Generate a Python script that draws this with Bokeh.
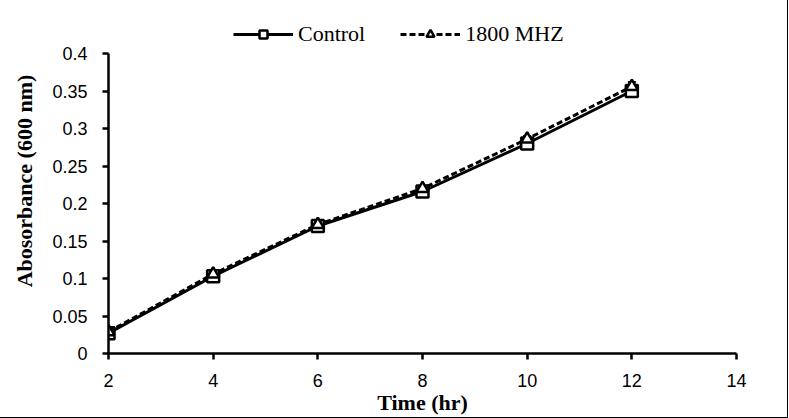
from bokeh.plotting import figure
from bokeh.models import FixedTicker, Legend, LegendItem, Whisker, ColumnDataSource, Range1d
from bokeh.embed import file_html
from bokeh.resources import INLINE

time_hr = [2, 4, 6, 8, 10, 12]
control = [0.027, 0.103, 0.170, 0.216, 0.280, 0.350]
control_err = [0.003, 0.003, 0.003, 0.003, 0.003, 0.004]
mhz1800 = [0.029, 0.106, 0.172, 0.220, 0.286, 0.356]
mhz1800_err = [0.003, 0.003, 0.003, 0.003, 0.004, 0.006]
x_ticks = [2, 4, 6, 8, 10, 12, 14]
y_ticks = [0, 0.05, 0.1, 0.15, 0.2, 0.25, 0.3, 0.35, 0.4]
y_labels = ["0", "0.05", "0.1", "0.15", "0.2", "0.25", "0.3", "0.35", "0.4"]

p = figure(frame_width=628, frame_height=345, output_backend="svg", toolbar_location=None,
           x_range=Range1d(2, 14), y_range=Range1d(0, 0.46),
           min_border_left=108, min_border_right=51, min_border_top=8, min_border_bottom=63)
p.styles = {"outline": "1px solid black"}
p.outline_line_color = None
p.grid.visible = False

src_c = ColumnDataSource(dict(x=time_hr, y=control,
                              lo=[v - e for v, e in zip(control, control_err)],
                              hi=[v + e for v, e in zip(control, control_err)]))
src_m = ColumnDataSource(dict(x=time_hr, y=mhz1800,
                              lo=[v - e for v, e in zip(mhz1800, mhz1800_err)],
                              hi=[v + e for v, e in zip(mhz1800, mhz1800_err)]))

for src in (src_c, src_m):
    w = Whisker(source=src, base="x", lower="lo", upper="hi", line_color="black", line_width=2)
    w.upper_head.size = 8
    w.lower_head.size = 8
    w.upper_head.line_color = "black"
    w.lower_head.line_color = "black"
    w.upper_head.line_width = 2
    w.lower_head.line_width = 2
    p.add_layout(w)

l1 = p.line("x", "y", source=src_c, line_color="black", line_width=3)
m1 = p.scatter("x", "y", source=src_c, marker="square", size=12, fill_color="white",
               line_color="black", line_width=2.5)
l2 = p.line("x", "y", source=src_m, line_color="black", line_width=3, line_dash="6 3")
m2 = p.scatter("x", "y", source=src_m, marker="triangle", size=12, fill_color="white",
               line_color="black", line_width=2.5)

for ax in (p.xaxis[0], p.yaxis[0]):
    ax.axis_line_color = "black"
    ax.axis_line_width = 2.5
    ax.major_tick_line_color = "black"
    ax.major_tick_line_width = 2.5
    ax.major_tick_out = 6
    ax.major_tick_in = 0
    ax.minor_tick_line_color = None
    ax.major_label_text_font = "Liberation Sans"
    ax.major_label_text_font_size = "18px"
    ax.major_label_text_color = "black"
    ax.axis_label_text_font = "Liberation Serif"
    ax.axis_label_text_font_style = "bold"
    ax.axis_label_text_font_size = "22px"
    ax.axis_label_text_color = "black"

p.xaxis.ticker = FixedTicker(ticks=x_ticks)
p.yaxis.ticker = FixedTicker(ticks=y_ticks)
p.yaxis.bounds = (0, 0.4)
p.yaxis.major_label_overrides = {t: s for t, s in zip(y_ticks, y_labels)}
p.xaxis.axis_label = "Time (hr)"
p.yaxis.axis_label = "Abosorbance (600 nm)"
p.xaxis.major_label_standoff = 14
p.xaxis.axis_label_standoff = 0
p.yaxis.major_label_standoff = 15
p.yaxis.axis_label_standoff = 12

legend = Legend(items=[LegendItem(label="Control", renderers=[l1, m1]),
                       LegendItem(label="1800 MHZ", renderers=[l2, m2])],
                orientation="horizontal", location=(125, 306),
                label_text_font="Liberation Serif", label_text_font_size="22px",
                label_text_color="black",
                label_standoff=5, border_line_color=None, background_fill_alpha=0,
                glyph_width=60, spacing=35, margin=0, padding=2)
p.add_layout(legend)

open("out.html", "w").write(file_html(p, INLINE))
